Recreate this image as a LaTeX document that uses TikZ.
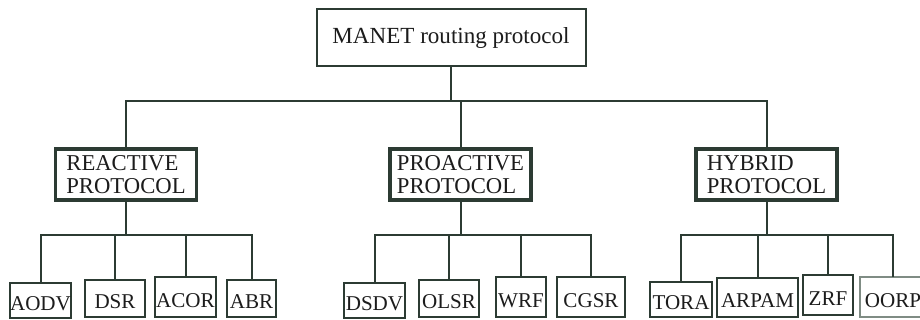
\documentclass[tikz,border=0pt]{standalone}
\usepackage{fontspec}
\setmainfont{Liberation Serif}
\usepackage{xcolor}
\usepackage{tikz}
\usetikzlibrary{positioning,calc}
\definecolor{linegreen}{HTML}{2C3B33}
\definecolor{palegreen}{HTML}{7F8C84}
\definecolor{inkblack}{HTML}{1C1C1C}

\begin{document}
\begin{tikzpicture}[x=0.75pt,y=-0.75pt,
every node/.style={outer sep=0pt,inner sep=0pt,text=inkblack},
rootbox/.style={draw=linegreen,line width=1.5pt,minimum width=269*0.75pt,minimum height=57*0.75pt,font=\fontsize{17.3}{18}\selectfont},
groupbox/.style={draw=linegreen,line width=2.6pt,minimum width=141*0.75pt,minimum height=51*0.75pt,align=left,font=\fontsize{17}{17.5}\selectfont},
leafbox/.style 2 args={draw=linegreen,line width=1.5pt,minimum width=#1*0.75pt,minimum height=#2*0.75pt,text height=15pt,text depth=0pt,font=\fontsize{15.8}{16}\selectfont},
link/.style={draw=linegreen,line width=1.5pt}]
\useasboundingbox (0,0) rectangle (920,320);
\fill[white] (0,0) rectangle (920,320);
\node (root) [rootbox] at (451,37.5) {MANET routing protocol};
\node (react) [groupbox] at (126,174.5) {REACTIVE\\PROTOCOL};
\node (proact) [groupbox] at (460.5,174.5) {PROACTIVE\\PROTOCOL};
\node (hybrid) [groupbox] at (766.5,174.5) {HYBRID\\PROTOCOL};
\node (aodv) [leafbox={61}{35}] at (40.5,300.5) {AODV};
\node (dsr) [leafbox={60}{37}] at (115,298.5) {DSR};
\node (acor) [leafbox={61}{40}] at (185.5,297) {ACOR};
\node (abr) [leafbox={49}{37}] at (251.5,298.5) {ABR};
\node (dsdv) [leafbox={61}{35}] at (374.5,300.5) {DSDV};
\node (olsr) [leafbox={60}{37}] at (449,298.5) {OLSR};
\node (wrf) [leafbox={50}{40}] at (521,297) {WRF};
\node (cgsr) [leafbox={68}{40}] at (591,297) {CGSR};
\node (tora) [leafbox={62}{35}] at (681,299.5) {TORA};
\node (arpam) [leafbox={81}{39}] at (757.5,297.5) {ARPAM};
\node (zrf) [leafbox={50}{40}] at (828,295) {ZRF};
\node (oorp) [leafbox={66}{40},draw=palegreen] at (893,297) {OORP};
\draw [link] (root.south) -- ++(0,35) coordinate (topbus);
\draw [link] (react.north) |- (topbus) -| (hybrid.north);
\draw [link] (proact.north) -- (proact.north |- topbus);
\draw [link] (react.south) -- ++(0,35) coordinate (reactbus);
\draw [link] (aodv.north) |- (reactbus) -| (abr.north);
\draw [link] (dsr.north) -- (dsr.north |- reactbus);
\draw [link] (acor.north) -- (acor.north |- reactbus);
\draw [link] (proact.south) -- ++(0,35) coordinate (proactbus);
\draw [link] (dsdv.north) |- (proactbus) -| (cgsr.north);
\draw [link] (olsr.north) -- (olsr.north |- proactbus);
\draw [link] (wrf.north) -- (wrf.north |- proactbus);
\draw [link] (hybrid.south) -- ++(0,35) coordinate (hybridbus);
\draw [link] (tora.north) |- (hybridbus) -| (oorp.north);
\draw [link] (arpam.north) -- (arpam.north |- hybridbus);
\draw [link] (zrf.north) -- (zrf.north |- hybridbus);
\end{tikzpicture}
\end{document}
